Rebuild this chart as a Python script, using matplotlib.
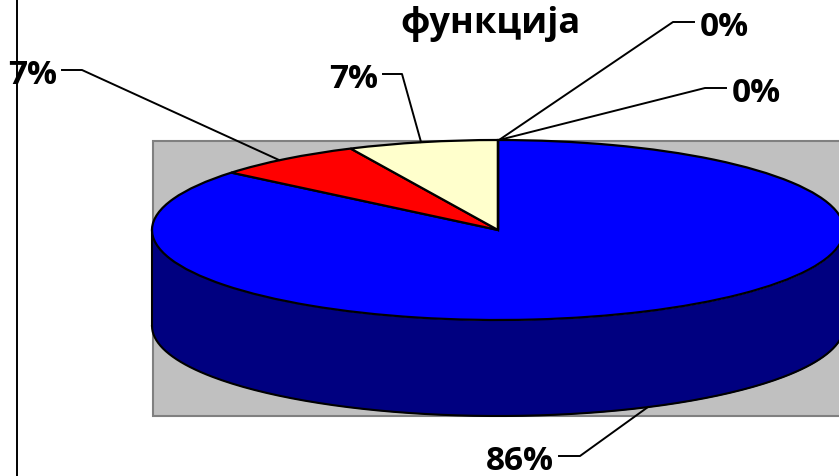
import matplotlib.pyplot as plt
import numpy as np

values = [86, 7, 7, 0, 0]
colors = ["#0000FF", "#FF0000", "#FFFFCC", "#00FF00", "#FF00FF"]
labels = ["86%", "7%", "7%", "0%", "0%"]
title = "функција"

W, H = 839, 477
cx, cy = 498, 231  # pie centre in pixels
rx, ry = 346, 90
depth_px = 96

plt.rcParams["font.family"] = ["Open Sans", "DejaVu Sans"]
fig = plt.figure(figsize=(W / 100, H / 100), dpi=100, facecolor="white")

# Pixel axes behind the pie: plot area and left border
bg = fig.add_axes([0, 0, 1, 1])
bg.set_xlim(0, W)
bg.set_ylim(H, 0)
bg.axis("off")
bg.add_patch(plt.Rectangle((152.5, 141.5), 700, 276, fc="#C0C0C0", ec="#808080", lw=1.5))
bg.plot([17, 17], [0, H], color="black", lw=1.4)

# Pie axes: unit circle stretched to the projected ellipse
ax = fig.add_axes([0, 0, 1, 1])
ax.patch.set_alpha(0)
theta = np.linspace(np.pi, 2 * np.pi, 200)
depth = depth_px / ry
ax.fill_between(np.cos(theta), np.sin(theta), np.sin(theta) - depth, color="#000080", lw=0)
ax.plot(np.cos(theta), np.sin(theta) - depth, color="black", lw=1.5)
ax.plot([-1, -1], [0, -depth], color="black", lw=1.5)
ax.pie(values, colors=colors, startangle=90, counterclock=False,
       wedgeprops={"edgecolor": "black", "linewidth": 1.6})
ax.set_aspect("auto")
ax.set_xlim(-cx / rx, (W - cx) / rx)
ax.set_ylim(-(H - cy) / ry, cy / ry)
ax.axis("off")

# Pixel axes on top: leader lines and text
top = fig.add_axes([0, 0, 1, 1])
top.patch.set_alpha(0)
top.set_xlim(0, W)
top.set_ylim(H, 0)
top.axis("off")

label_pos = [(520, 462), (33, 76), (354, 79), (724, 28), (756, 93)]
leaders = [
    [(559, 457), (580, 457), (648, 408)],
    [(62, 71), (82, 71), (279, 161)],
    [(383, 75), (402, 75), (421, 143)],
    [(694, 23), (673, 23), (499, 141)],
    [(726, 89), (705, 89), (499, 141)],
]
for text, (x, y), line in zip(labels, label_pos, leaders):
    top.text(x, y, text, ha="center", va="center", fontsize=24, fontweight="bold", color="black")
    top.plot([p[0] for p in line], [p[1] for p in line], color="black", lw=1.4)

top.text(491, 24, title, ha="center", va="center", fontsize=26, fontweight="bold", color="black")

fig.savefig("out.png", dpi=100)
